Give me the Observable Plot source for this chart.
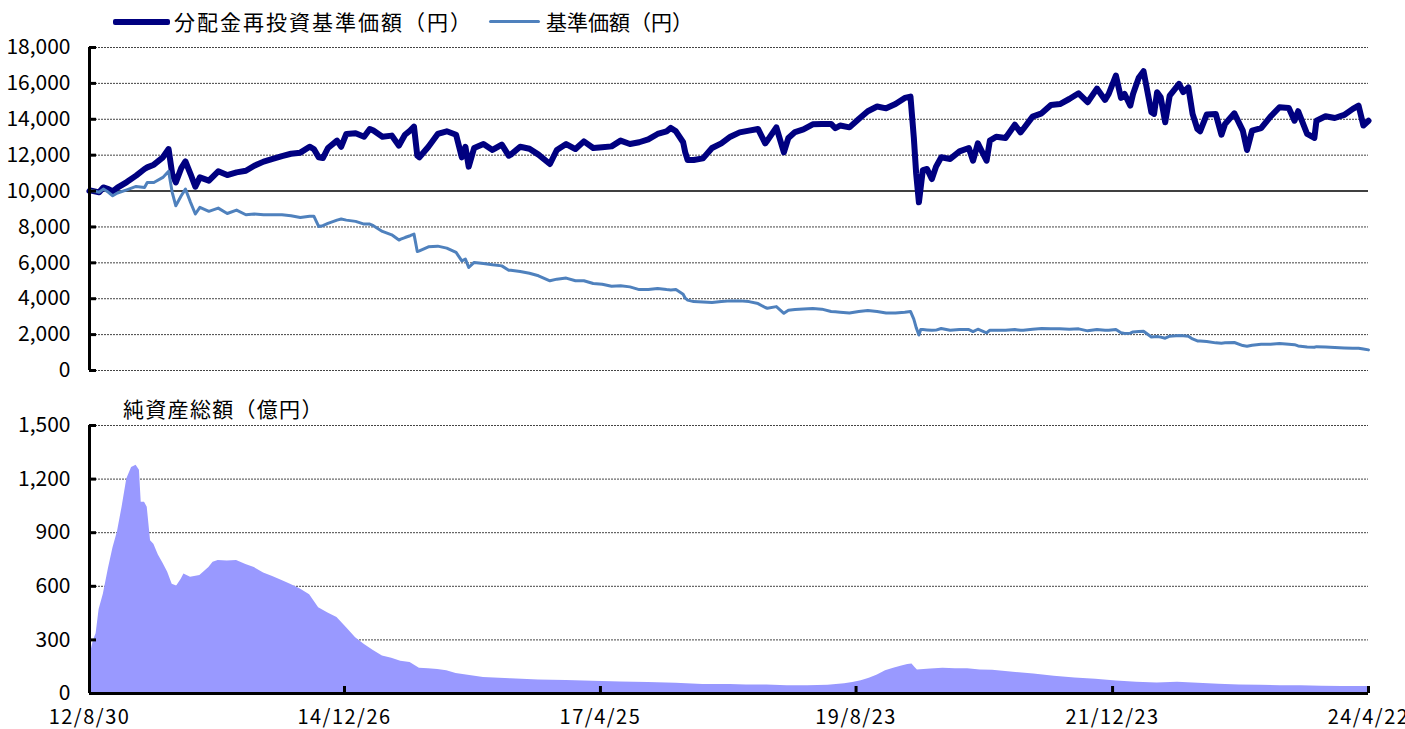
<!DOCTYPE html>
<html><head><meta charset="utf-8">
<script src="https://cdn.jsdelivr.net/npm/d3@7"></script>
<script src="https://cdn.jsdelivr.net/npm/@observablehq/plot@0.6"></script>
<style>
body{margin:0;background:#fff;}
#wrap{position:relative;width:1405px;height:729px;overflow:hidden;font-family:"Noto Sans CJK JP",sans-serif;background:#fff;}
#top,#bottom{position:absolute;left:0;}
#top{top:0;} #bottom{top:390px;}
.lg{position:absolute;font-size:21px;line-height:24px;color:#000;white-space:nowrap;}
.sw{position:absolute;border-radius:2px;}
#bottom g[aria-label="x-axis tick label"] text{letter-spacing:1.5px;}
</style></head><body>
<div id="wrap"><div id="top"></div><div id="bottom"></div></div>
<script>
// ---- data ----
const seriesNames = ["分配金再投資基準価額（円）", "基準価額（円）"];
const aumTitle = "純資産総額（億円）";
const topTicks = [0, 2000, 4000, 6000, 8000, 10000, 12000, 14000, 16000, 18000];
const bottomTicks = [0, 300, 600, 900, 1200, 1500];
const xTickDates = ["2012-08-30", "2014-12-26", "2017-04-25", "2019-08-23", "2021-12-23", "2024-04-22"];
const xTickLabels = ["12/8/30", "14/12/26", "17/4/25", "19/8/23", "21/12/23", "24/4/22"];

const navDates = [
"2012-08-30","2012-09-01","2012-10-01","2012-10-15","2012-11-01","2012-11-15","2012-12-01","2013-01-01","2013-02-01","2013-03-01",
"2013-03-10","2013-04-01","2013-05-01","2013-05-20","2013-06-01","2013-06-13","2013-07-01","2013-07-15","2013-08-01","2013-08-17",
"2013-09-01","2013-10-01","2013-11-01","2013-12-01","2014-01-01","2014-02-01","2014-03-01","2014-04-01","2014-05-01","2014-06-01",
"2014-07-01","2014-08-01","2014-09-01","2014-09-15","2014-10-01","2014-10-15","2014-11-01","2014-12-01","2014-12-15","2015-01-01",
"2015-02-01","2015-03-01","2015-03-20","2015-04-01","2015-05-01","2015-06-01","2015-06-25","2015-07-01","2015-07-15","2015-08-01",
"2015-08-14","2015-08-25","2015-09-01","2015-10-01","2015-11-01","2015-12-01","2016-01-01","2016-01-20","2016-02-01","2016-02-12",
"2016-03-01","2016-04-01","2016-05-01","2016-06-01","2016-06-24","2016-07-01","2016-08-01","2016-09-01","2016-10-01","2016-11-08",
"2016-12-01","2017-01-01","2017-02-01","2017-03-01","2017-04-01","2017-05-01","2017-06-01","2017-07-01","2017-08-01","2017-09-01",
"2017-10-01","2017-11-01","2017-12-01","2017-12-15","2018-01-01","2018-01-25","2018-02-01","2018-02-09","2018-03-01","2018-04-01",
"2018-05-01","2018-06-01","2018-07-01","2018-08-01","2018-09-01","2018-10-01","2018-10-25","2018-11-01","2018-12-01","2018-12-26",
"2019-01-10","2019-02-01","2019-03-01","2019-04-01","2019-05-01","2019-06-01","2019-06-15","2019-07-01","2019-08-01","2019-09-01",
"2019-10-01","2019-11-01","2019-12-01","2020-01-01","2020-02-01","2020-02-20","2020-03-02","2020-03-10","2020-03-19","2020-03-25",
"2020-04-01","2020-04-15","2020-05-01","2020-05-15","2020-06-01","2020-07-01","2020-08-01","2020-09-01","2020-09-15","2020-10-01",
"2020-10-30","2020-11-10","2020-12-01","2021-01-01","2021-02-01","2021-02-20","2021-03-01","2021-04-01","2021-05-01","2021-06-01",
"2021-07-01","2021-08-01","2021-09-01","2021-10-01","2021-11-01","2021-11-28","2021-12-10","2022-01-03","2022-01-20","2022-02-01",
"2022-02-20","2022-03-01","2022-03-20","2022-04-05","2022-05-01","2022-05-10","2022-05-20","2022-06-01","2022-06-16","2022-07-01",
"2022-08-01","2022-08-15","2022-09-01","2022-09-15","2022-10-01","2022-10-10","2022-11-01","2022-12-01","2022-12-20","2023-01-01",
"2023-02-01","2023-03-01","2023-03-15","2023-04-01","2023-05-01","2023-06-01","2023-07-01","2023-08-01","2023-08-20","2023-09-01",
"2023-10-01","2023-10-25","2023-11-01","2023-12-01","2024-01-01","2024-02-01","2024-03-01","2024-03-20","2024-04-05","2024-04-22"];

const navReinvested = [
10000,10040,9930,10200,10110,9980,10190,10500,10860,11230,
11320,11470,11880,12340,10950,10480,11280,11650,10950,10240,
10760,10580,11100,10890,11040,11130,11410,11640,11790,11950,
12080,12140,12470,12340,11880,11840,12400,12810,12470,13180,
13220,13030,13460,13370,13030,13090,12530,12720,13140,13370,
13590,11970,11880,12470,13180,13330,13140,11880,12470,11360,
12400,12620,12290,12590,11970,12030,12470,12360,12030,11510,
12290,12620,12340,12770,12400,12440,12490,12810,12620,12720,
12880,13180,13330,13520,13330,12720,12160,11730,11730,11820,
12400,12660,13030,13270,13370,13460,12660,12810,13550,12160,
12960,13290,13440,13720,13740,13740,13500,13650,13550,14020,
14450,14710,14610,14850,15190,15260,13000,10950,9370,10200,
11170,11230,10670,11360,11880,11790,12210,12400,11690,12660,
11690,12810,13030,12960,13700,13270,13460,14150,14330,14790,
14850,15130,15450,14950,15710,15080,15410,16440,15190,15410,
14760,15410,16310,16680,14390,14300,15510,15230,13830,15320,
15970,15510,15780,14300,13460,13330,14260,14300,13140,13740,
14330,13370,12290,13370,13510,14150,14670,14630,13920,14450,
13180,12960,13920,14170,14070,14240,14580,14760,13650,13920];

const navBase = [
10000,10040,9930,10110,9930,9740,9890,10070,10260,10200,
10480,10480,10760,11100,9930,9180,9740,10110,9370,8720,
9090,8870,9050,8750,8940,8680,8720,8680,8680,8680,
8620,8530,8600,8600,8030,8070,8200,8380,8440,8380,
8310,8160,8160,8070,7750,7560,7270,7320,7410,7510,
7600,6630,6670,6890,6930,6820,6580,6110,6210,5740,
6020,5960,5890,5830,5590,5590,5520,5420,5280,5000,
5090,5150,5000,5000,4850,4810,4700,4720,4660,4510,
4510,4570,4510,4490,4510,4250,4030,3920,3840,3820,
3790,3840,3880,3880,3840,3730,3510,3470,3560,3190,
3360,3400,3430,3450,3420,3290,3270,3250,3210,3290,
3340,3290,3210,3210,3250,3290,2860,2390,1980,2280,
2280,2260,2240,2250,2340,2240,2280,2280,2170,2300,
2100,2240,2240,2240,2280,2240,2240,2300,2340,2330,
2320,2300,2320,2210,2280,2240,2240,2280,2100,2060,
2080,2150,2170,2190,1870,1880,1890,1860,1800,1910,
1950,1930,1910,1760,1650,1640,1610,1540,1520,1540,
1560,1390,1350,1410,1460,1460,1500,1460,1440,1370,
1310,1300,1330,1310,1280,1260,1240,1240,1200,1150];

const aumDates = [
"2012-08-30","2012-09-12","2012-09-21","2012-10-01","2012-10-15","2012-11-01","2012-11-16","2012-12-01","2012-12-16","2013-01-01",
"2013-01-17","2013-02-01","2013-02-12","2013-02-18","2013-03-01","2013-03-10","2013-03-21","2013-04-01","2013-04-16","2013-05-01",
"2013-05-17","2013-06-01","2013-06-16","2013-07-01","2013-07-10","2013-08-01","2013-09-01","2013-10-01","2013-10-15","2013-11-01",
"2013-12-01","2014-01-01","2014-02-01","2014-03-01","2014-04-01","2014-05-01","2014-06-01","2014-07-01","2014-08-01","2014-09-01",
"2014-10-01","2014-11-01","2014-12-01","2015-01-01","2015-02-01","2015-03-01","2015-04-01","2015-05-01","2015-06-01","2015-07-01",
"2015-08-01","2015-09-01","2015-10-01","2015-11-01","2015-12-01","2016-01-01","2016-04-01","2016-07-01","2016-10-01","2017-01-01",
"2017-04-01","2017-07-01","2017-10-01","2018-01-01","2018-04-01","2018-07-01","2018-08-23","2018-10-30","2019-01-06","2019-03-15",
"2019-05-22","2019-07-16","2019-08-12","2019-09-09","2019-10-06","2019-11-02","2019-11-29","2019-12-26","2020-01-22","2020-02-11",
"2020-02-25","2020-03-06","2020-03-14","2020-04-27","2020-06-07","2020-07-18","2020-08-28","2020-10-09","2020-11-19","2021-01-27",
"2021-04-05","2021-06-12","2021-08-20","2021-10-28","2022-01-05","2022-03-13","2022-05-20","2022-07-27","2022-10-04","2022-12-11",
"2023-02-18","2023-04-27","2023-07-04","2023-09-11","2023-11-18","2024-01-25","2024-04-22"];

const aumValues = [
200,296,334,470,555,700,815,905,1040,1200,
1265,1278,1250,1070,1070,1042,855,835,775,730,
678,612,602,640,669,650,660,705,735,745,
742,745,722,705,675,655,633,610,585,553,
480,450,425,370,312,275,240,210,197,180,
173,142,139,135,127,112,90,82,76,73,
68,64,61,57,50,50,48,48,44,44,
46,54,61,72,85,104,128,141,154,163,
165,146,131,137,141,139,139,131,130,119,
109,96,87,80,70,63,59,63,57,52,
48,46,44,43,41,39,39];

const seriesColors = ["#000080", "#4F81BD"];
const aumColor = "#9999FF";

// ---- build ----
const parse = d3.utcParse("%Y-%m-%d");
const xDomain = [parse(xTickDates[0]), parse(xTickDates[xTickDates.length - 1])];
const xTicks = xTickDates.map(parse);
const labelMap = new Map(xTicks.map((d, i) => [+d, xTickLabels[i]]));
const navA = navDates.map((d, i) => ({date: parse(d), value: navReinvested[i]}));
const navB = navDates.map((d, i) => ({date: parse(d), value: navBase[i]}));
const aum = aumDates.map((d, i) => ({date: parse(d), value: aumValues[i]}));

const W = 1405, ML = 89, MR = 37;
const plotW = W - ML - MR;
const font = '"Noto Sans CJK JP", sans-serif';
const gridStyle = {stroke: "#444", strokeWidth: 1, strokeDasharray: "2,1"};

const topH = 385, topMT = 47, topMB = 15;
const topPlot = Plot.plot({
  width: W, height: topH,
  marginLeft: ML, marginRight: MR, marginTop: topMT, marginBottom: topMB,
  style: {fontFamily: font, fontSize: "20px", color: "#000", background: "transparent", overflow: "visible"},
  x: {type: "utc", domain: xDomain, axis: null},
  y: {domain: [0, 18000], label: null},
  marks: [
    Plot.ruleY(topTicks.filter(d => d !== 10000), gridStyle),
    Plot.ruleY([10000], {stroke: "#000", strokeWidth: 1.5}),
    Plot.line(navA, {x: "date", y: "value", stroke: seriesColors[0], strokeWidth: 6, strokeLinejoin: "round", strokeLinecap: "round"}),
    Plot.line(navB, {x: "date", y: "value", stroke: seriesColors[1], strokeWidth: 3, strokeLinejoin: "round", strokeLinecap: "round"}),
    Plot.axisY(topTicks, {label: null, tickSize: 0, tickPadding: 19, tickFormat: d3.format(","), fontSize: 21}),
    Plot.ruleY(topTicks, {stroke: "#000", strokeWidth: 3, insetRight: plotW - 7}),
    Plot.ruleX([xDomain[0]], {stroke: "#000", strokeWidth: 3})
  ]
});
document.getElementById("top").appendChild(topPlot);

const botH = 339, botMT = 35, botMB = 36;
const botPlotH = botH - botMT - botMB;
const botPlot = Plot.plot({
  width: W, height: botH,
  marginLeft: ML, marginRight: MR, marginTop: botMT, marginBottom: botMB,
  style: {fontFamily: font, fontSize: "20px", color: "#000", background: "transparent", overflow: "visible"},
  x: {type: "utc", domain: xDomain, label: null},
  y: {domain: [0, 1500], label: null},
  marks: [
    Plot.ruleY(bottomTicks.filter(d => d > 0), gridStyle),
    Plot.areaY(aum, {x: "date", y: "value", fill: aumColor}),
    Plot.axisY(bottomTicks, {label: null, tickSize: 0, tickPadding: 19, tickFormat: d3.format(","), fontSize: 21}),
    Plot.ruleY(bottomTicks, {stroke: "#000", strokeWidth: 3, insetRight: plotW - 7}),
    Plot.axisX(xTicks, {label: null, tickSize: 0, tickPadding: 16, tickFormat: d => labelMap.get(+d), fontSize: 20}),
    Plot.ruleX(xTicks.slice(1), {stroke: "#000", strokeWidth: 3, insetTop: botPlotH - 7}),
    Plot.ruleX([xDomain[0]], {stroke: "#000", strokeWidth: 3}),
    Plot.ruleY([0], {stroke: "#000", strokeWidth: 3})
  ]
});
document.getElementById("bottom").appendChild(botPlot);

// ---- legend & title ----
const wrap = document.getElementById("wrap");
function addDiv(cls, style, text) {
  const el = document.createElement("div");
  el.className = cls;
  Object.assign(el.style, style);
  if (text) el.textContent = text;
  wrap.appendChild(el);
}
addDiv("sw", {left: "113px", top: "19px", width: "57px", height: "6px", background: seriesColors[0]});
addDiv("lg", {left: "174px", top: "9px", letterSpacing: "2px"}, seriesNames[0]);
addDiv("sw", {left: "489px", top: "20px", width: "51px", height: "3px", background: seriesColors[1]});
addDiv("lg", {left: "546px", top: "9px"}, seriesNames[1]);
addDiv("lg", {left: "123px", top: "396px", letterSpacing: "1.3px"}, aumTitle);
</script>
</body></html>
